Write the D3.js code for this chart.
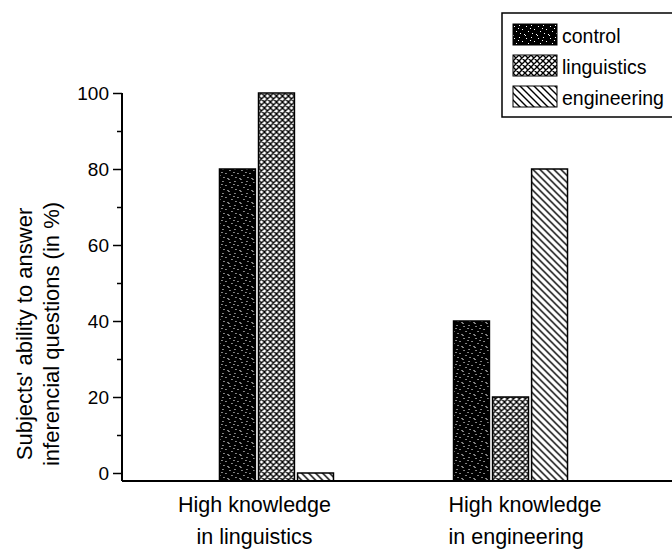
<!DOCTYPE html>
<html>
<head>
<meta charset="utf-8">
<script src="https://cdn.jsdelivr.net/npm/d3@7"></script>
<style>
  html, body { margin: 0; padding: 0; background: #fff; }
  svg { display: block; font-family: "Liberation Sans", Arial, sans-serif; }
</style>
</head>
<body>
<div id="chart"></div>
<script>
const groups = ["High knowledge in linguistics", "High knowledge in engineering"];
const groupLabels = [["High knowledge", "in linguistics"], ["High knowledge", "in engineering"]];
const series = ["control", "linguistics", "engineering"];
const controlValues = [80, 40];
const linguisticsValues = [100, 20];
const engineeringValues = [0, 80];
const majorTicks = [0, 20, 40, 60, 80, 100];
const minorTicks = [10, 30, 50, 70, 90];

const W = 672, H = 559;
const svg = d3.select("#chart").append("svg")
    .attr("width", W)
    .attr("height", H);

// fill patterns: speckled black, crosshatch, diagonal hatch
const defs = svg.append("defs");

const speck = defs.append("pattern")
    .attr("id", "pat-control")
    .attr("patternUnits", "userSpaceOnUse")
    .attr("width", 12).attr("height", 12);
speck.append("rect").attr("width", 12).attr("height", 12).attr("fill", "#000");
[[1, 2], [6, 1], [9, 5], [3, 7], [7, 9], [11, 10], [0, 11], [5, 4]].forEach(([px, py]) => {
    speck.append("rect").attr("x", px).attr("y", py).attr("width", 1).attr("height", 1).attr("fill", "#fff");
});

const cross = defs.append("pattern")
    .attr("id", "pat-linguistics")
    .attr("patternUnits", "userSpaceOnUse")
    .attr("width", 6).attr("height", 6);
cross.append("rect").attr("width", 6).attr("height", 6).attr("fill", "#fff");
cross.append("path")
    .attr("d", "M0,0L6,6M-1,5L1,7M5,-1L7,1M0,6L6,0M-1,1L1,-1M5,7L7,5")
    .attr("stroke", "#000").attr("stroke-width", 1.4);

const diag = defs.append("pattern")
    .attr("id", "pat-engineering")
    .attr("patternUnits", "userSpaceOnUse")
    .attr("width", 7).attr("height", 7);
diag.append("rect").attr("width", 7).attr("height", 7).attr("fill", "#fff");
diag.append("path")
    .attr("d", "M0,0L7,7M-1,6L1,8M6,-1L8,1")
    .attr("stroke", "#000").attr("stroke-width", 1.4);

const fills = {
    control: "url(#pat-control)",
    linguistics: "url(#pat-linguistics)",
    engineering: "url(#pat-engineering)"
};

const rows = groups.map((g, i) => ({
    group: g,
    values: {
        control: controlValues[i],
        linguistics: linguisticsValues[i],
        engineering: engineeringValues[i]
    }
}));

const axisX = 122;
const x0 = d3.scalePoint()
    .domain(groups)
    .range([axisX, 665])
    .padding(0.66);

const x1 = d3.scaleBand()
    .domain(series)
    .range([-57, 57])
    .paddingInner(0.08);

const y = d3.scaleLinear()
    .domain([0, 100])
    .range([473, 93]);

const baseY = y(0) + 8;

// bars
const gGroups = svg.selectAll(".grp")
    .data(rows)
    .enter().append("g")
    .attr("class", "grp")
    .attr("transform", d => `translate(${x0(d.group)},0)`);

gGroups.selectAll("rect")
    .data(d => series.map(s => ({ s, v: d.values[s] })))
    .enter().append("rect")
    .attr("x", d => x1(d.s))
    .attr("y", d => y(d.v))
    .attr("width", x1.bandwidth())
    .attr("height", d => baseY - y(d.v))
    .attr("fill", d => fills[d.s])
    .attr("stroke", "#000")
    .attr("stroke-width", 1.5);

// y axis
const yAxis = svg.append("g")
    .attr("transform", `translate(${axisX},0)`)
    .call(d3.axisLeft(y).tickValues(majorTicks).tickSize(9).tickPadding(4));
yAxis.select(".domain").remove();
yAxis.selectAll(".tick line").attr("stroke", "#000").attr("stroke-width", 1.5);
yAxis.selectAll(".tick text")
    .attr("fill", "#000")
    .style("font-size", "19px")
    .style("font-family", "'Liberation Sans', Arial, sans-serif");

const yMinor = svg.append("g")
    .attr("transform", `translate(${axisX},0)`)
    .call(d3.axisLeft(y).tickValues(minorTicks).tickSize(5).tickFormat(""));
yMinor.select(".domain").remove();
yMinor.selectAll(".tick line").attr("stroke", "#000").attr("stroke-width", 1.5);

svg.append("line")
    .attr("x1", axisX).attr("x2", axisX)
    .attr("y1", y(100)).attr("y2", baseY)
    .attr("stroke", "#000").attr("stroke-width", 2);

svg.append("line")
    .attr("x1", axisX).attr("x2", W)
    .attr("y1", baseY).attr("y2", baseY)
    .attr("stroke", "#000").attr("stroke-width", 2);

// y title
const yTitle = svg.append("text")
    .attr("transform", `translate(32,${334}) rotate(-90)`)
    .attr("text-anchor", "middle")
    .style("font-size", "22px")
    .attr("fill", "#000");
yTitle.append("tspan").attr("x", 0).attr("y", 0).text("Subjects' ability to answer");
yTitle.append("tspan").attr("x", 0).attr("y", 27).text("inferencial questions (in %)");

// group labels
groupLabels.forEach((lines, i) => {
    const cx = x0(groups[i]);
    const t = svg.append("text")
        .attr("text-anchor", i === 0 ? "middle" : "start")
        .style("font-size", "21.5px")
        .attr("fill", "#000");
    const lx = i === 0 ? cx - 22 : cx - 62;
    lines.forEach((line, j) => {
        t.append("tspan").attr("x", lx).attr("y", 512 + j * 32).text(line);
    });
});

// legend
const legend = svg.append("g");
legend.append("rect")
    .attr("x", 502).attr("y", 13)
    .attr("width", 200).attr("height", 104)
    .attr("fill", "#fff")
    .attr("stroke", "#000")
    .attr("stroke-width", 1.5);

const items = legend.selectAll(".item")
    .data(series)
    .enter().append("g")
    .attr("class", "item")
    .attr("transform", (d, i) => `translate(513,${24 + i * 31})`);

items.append("rect")
    .attr("width", 44).attr("height", 21)
    .attr("fill", d => fills[d])
    .attr("stroke", "#000")
    .attr("stroke-width", 1);

items.append("text")
    .attr("x", 49).attr("y", 19)
    .style("font-size", "19.5px")
    .attr("fill", "#000")
    .text(d => d);
</script>
</body>
</html>
